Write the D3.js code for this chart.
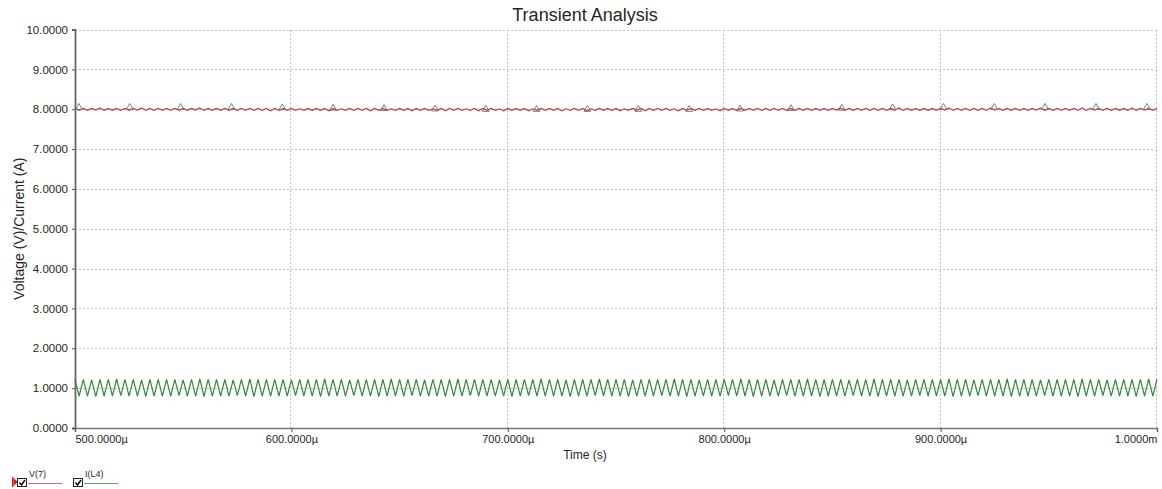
<!DOCTYPE html>
<html>
<head>
<meta charset="utf-8">
<script src="https://cdn.jsdelivr.net/npm/d3@7"></script>
<style>
  body { margin: 0; background: #fff; }
  svg { display: block; }
  text { font-family: "Liberation Sans", Arial, sans-serif; fill: #262626; }
</style>
</head>
<body>
<svg id="chart"></svg>
<script>
// time in microseconds, values in V / A
var startUs = 500, endUs = 1000
var xTicks = [500, 600, 700, 800, 900, 1000]
var yTicks = [0, 1, 2, 3, 4, 5, 6, 7, 8, 9, 10]
var seriesNames = ["V(7)", "I(L4)"]

// V(7): ripple tops and bottoms, one per switching cycle
var v7Peaks = [
  8.02,8.02,8.02,8.03,8.02,8.02,8.02,8.02,8.03,8.02,
  8.02,8.02,8.02,8.02,8.02,8.03,8.02,8.02,8.02,8.02,
  8.02,8.02,8.02,8.02,8.02,8.02,8.02,8.01,8.02,8.02,
  8.02,8.02,8.01,8.02,8.02,8.02,8.02,8.02,8.01,8.02,
  8.02,8.02,8.02,8.01,8.02,8.02,8.02,8.01,8.02,8.02,
  8.02,8.01,8.02,8.02,8.02,8.01,8.02,8.02,8.02,8.01,
  8.02,8.02,8.01,8.02,8.02,8.02,8.01,8.02,8.02,8.02,
  8.02,8.02,8.01,8.02,8.02,8.02,8.02,8.01,8.02,8.02,
  8.02,8.02,8.02,8.02,8.02,8.02,8.02,8.02,8.02,8.02,
  8.02,8.02,8.03,8.02,8.02,8.02,8.02,8.02,8.02,8.03,
  8.02,8.02,8.02,8.02,8.02,8.03,8.02,8.02,8.02,8.02,
  8.03,8.02,8.02,8.02,8.02,8.02,8.03,8.02,8.02,8.02,
  8.02,8.03,8.02,8.02,8.02,8.02,8.02,8.03,8.02,8.02,
  8.02
]
var v7Troughs = [
  7.97,7.97,7.98,7.97,7.97,7.97,7.97,7.98,7.97,7.97,
  7.97,7.97,7.97,7.97,7.98,7.97,7.97,7.97,7.97,7.97,
  7.97,7.97,7.97,7.96,7.97,7.97,7.97,7.97,7.97,7.97,
  7.96,7.97,7.97,7.97,7.97,7.96,7.97,7.97,7.97,7.97,
  7.96,7.97,7.97,7.97,7.96,7.97,7.97,7.97,7.96,7.97,
  7.97,7.96,7.97,7.97,7.96,7.97,7.97,7.97,7.96,7.97,
  7.97,7.96,7.97,7.97,7.97,7.96,7.97,7.97,7.96,7.97,
  7.97,7.97,7.96,7.97,7.97,7.97,7.97,7.96,7.97,7.97,
  7.97,7.97,7.97,7.97,7.97,7.97,7.97,7.97,7.97,7.97,
  7.97,7.98,7.97,7.97,7.97,7.97,7.97,7.97,7.98,7.97,
  7.97,7.97,7.97,7.97,7.98,7.97,7.97,7.97,7.97,7.97,
  7.98,7.97,7.97,7.97,7.97,7.98,7.97,7.97,7.97,7.97,
  7.97,7.97,7.98,7.97,7.97,7.97,7.97,7.97,7.98,7.97
]

// I(L4): inductor current triangle
var iL4Peaks = [
  1.22,1.22,1.21,1.22,1.22,1.23,1.22,1.22,1.21,1.22,
  1.22,1.22,1.22,1.21,1.22,1.23,1.22,1.22,1.22,1.21,
  1.22,1.23,1.22,1.22,1.22,1.22,1.21,1.22,1.22,1.22,
  1.23,1.22,1.22,1.21,1.22,1.22,1.22,1.22,1.23,1.22,
  1.22,1.22,1.21,1.22,1.22,1.22,1.23,1.22,1.22,1.22,
  1.22,1.21,1.22,1.22,1.22,1.22,1.23,1.22,1.22,1.21,
  1.22,1.22,1.22,1.23,1.22,1.22,1.22,1.21,1.22,1.22,
  1.22,1.22,1.23,1.22,1.22,1.21,1.22,1.22,1.22,1.22,
  1.23,1.22,1.22,1.22,1.21,1.22,1.22,1.22,1.23,1.22,
  1.22,1.22,1.22,1.21,1.22,1.22,1.23,1.22,1.22,1.22,
  1.21,1.22,1.22,1.22,1.22,1.23,1.22,1.22,1.21,1.22,
  1.22,1.22,1.23,1.22,1.22,1.22,1.21,1.22,1.22,1.22,
  1.22,1.23,1.22,1.22,1.21,1.22,1.22,1.22,1.22,1.23,
  1.22
]
var iL4Troughs = [
  0.80,0.80,0.79,0.80,0.80,0.81,0.80,0.80,0.79,0.80,
  0.80,0.80,0.81,0.80,0.80,0.79,0.80,0.80,0.80,0.81,
  0.80,0.79,0.80,0.80,0.80,0.80,0.81,0.80,0.80,0.79,
  0.80,0.80,0.80,0.81,0.80,0.80,0.79,0.80,0.80,0.80,
  0.81,0.80,0.80,0.80,0.79,0.80,0.80,0.81,0.80,0.80,
  0.80,0.80,0.79,0.80,0.81,0.80,0.80,0.80,0.80,0.79,
  0.80,0.80,0.81,0.80,0.80,0.80,0.79,0.80,0.80,0.80,
  0.81,0.80,0.80,0.79,0.80,0.80,0.80,0.80,0.81,0.80,
  0.80,0.79,0.80,0.80,0.80,0.81,0.80,0.80,0.80,0.79,
  0.80,0.80,0.80,0.81,0.80,0.80,0.79,0.80,0.80,0.80,
  0.80,0.81,0.80,0.80,0.80,0.79,0.80,0.80,0.81,0.80,
  0.80,0.80,0.79,0.80,0.80,0.80,0.81,0.80,0.80,0.80,
  0.79,0.80,0.80,0.81,0.80,0.80,0.80,0.79,0.80,0.80
]

// trace markers drawn on V(7)
var markerTimes = [501.8, 525.3, 548.8, 572.3, 595.8, 619.3, 642.8, 666.3, 689.8, 713.3, 736.8,
                   760.3, 783.8, 807.3, 830.8, 854.3, 877.8, 901.3, 924.8, 948.3, 971.8, 995.3]
var markerValues = [8.02, 8.02, 8.02, 8.02, 8.01, 8.00, 7.99, 7.98, 7.97, 7.97, 7.97,
                    7.97, 7.97, 7.98, 7.99, 8.00, 8.01, 8.02, 8.02, 8.02, 8.02, 8.02]

var W = 1162, H = 489
var margin = { top: 29.5, left: 75, bottom: 61, right: 5 }

var svg = d3.select("#chart").attr("width", W).attr("height", H)

var x = d3.scaleLinear().domain([startUs, endUs]).range([margin.left, W - margin.right])
var y = d3.scaleLinear().domain([0, 10]).range([H - margin.bottom, margin.top])

// turn peak/trough lists into samples on the simulator's time grid
function toSamples(peaks, troughs) {
  var n = peaks.length + troughs.length
  var step = (endUs - startUs) / (n - 1)
  var out = []
  for (var k = 0; k < n; k++) {
    var v = (k % 2 == 0) ? peaks[k / 2] : troughs[(k - 1) / 2]
    out.push({ t: startUs + k * step, v: v })
  }
  return out
}

var v7 = toSamples(v7Peaks, v7Troughs)
var iL4 = toSamples(iL4Peaks, iL4Troughs)

// grid
var grid = svg.append("g").attr("stroke", "#c4c4c4").attr("stroke-width", 1).attr("stroke-dasharray", "2,2")
grid.selectAll(".hg")
  .data(yTicks.filter(function (d) { return d > 0 }))
  .enter().append("line")
  .attr("x1", x(startUs)).attr("x2", x(endUs))
  .attr("y1", function (d) { return Math.round(y(d)) + 0.5 })
  .attr("y2", function (d) { return Math.round(y(d)) + 0.5 })
grid.selectAll(".vg")
  .data(xTicks.filter(function (d) { return d > startUs }))
  .enter().append("line")
  .attr("x1", function (d) { return Math.round(x(d)) - 0.5 })
  .attr("x2", function (d) { return Math.round(x(d)) - 0.5 })
  .attr("y1", y(0)).attr("y2", y(10))

// axes
var xAxis = svg.append("g")
  .attr("transform", "translate(0," + y(0) + ")")
  .call(d3.axisBottom(x).tickValues(xTicks).tickSize(4).tickPadding(3)
    .tickFormat(function (d) { return d < 1000 ? d.toFixed(4) + "\u00b5" : (d / 1000).toFixed(4) + "m" }))
xAxis.select(".domain").attr("stroke", "#777").attr("stroke-width", 1.5)
xAxis.selectAll(".tick line").attr("stroke", "#555")
xAxis.selectAll("text").attr("font-size", 11).attr("fill", "#262626")
  .attr("text-anchor", function (d) { return d == startUs ? "start" : (d == endUs ? "end" : "middle") })
xAxis.attr("font-family", null)

var yAxis = svg.append("g")
  .attr("transform", "translate(" + x(startUs) + ",0)")
  .call(d3.axisLeft(y).tickValues(yTicks).tickSize(3).tickPadding(4)
    .tickFormat(function (d) { return d.toFixed(4) }))
yAxis.select(".domain").attr("stroke", "#666").attr("stroke-width", 1.8)
yAxis.selectAll(".tick line").attr("stroke", "#555")
yAxis.selectAll("text").attr("font-size", 11.5).attr("fill", "#262626")
yAxis.attr("font-family", null)

// traces
var line = d3.line().x(function (d) { return x(d.t) }).y(function (d) { return y(d.v) })

svg.append("path").datum(v7)
  .attr("fill", "none").attr("stroke", "#c23a38").attr("stroke-width", 1.2)
  .attr("d", line)

svg.append("path").datum(iL4)
  .attr("fill", "none").attr("stroke", "#2f8a34").attr("stroke-width", 1.2)
  .attr("d", line)

var tri = d3.symbol().type(d3.symbolTriangle).size(20)
svg.selectAll(".mk")
  .data(markerTimes)
  .enter().append("path")
  .attr("class", "mk")
  .attr("transform", function (d, i) { return "translate(" + x(d) + "," + (y(markerValues[i]) - 1) + ")" })
  .attr("d", tri)
  .attr("fill", "none").attr("stroke", "#707070").attr("stroke-width", 0.9)

// titles
svg.append("text").attr("x", 585).attr("y", 21).attr("text-anchor", "middle")
  .attr("font-size", 18).text("Transient Analysis")
svg.append("text").attr("x", 585).attr("y", 459).attr("text-anchor", "middle")
  .attr("font-size", 12).text("Time (s)")
svg.append("text").attr("transform", "translate(24," + ((y(0) + y(10)) / 2) + ") rotate(-90)")
  .attr("text-anchor", "middle").attr("font-size", 14).text("Voltage (V)/Current (A)")

// legend
var legendColors = ["#d06a6a", "#5aa65a"]
var legendX = [17, 73]
var lg = svg.append("g")
lg.append("rect").attr("x", 12).attr("y", 477).attr("width", 1.5).attr("height", 10).attr("fill", "#d42020")
lg.append("path").attr("d", "M13.5,478 L18,482 L13.5,486 Z").attr("fill", "#d42020")

var items = lg.selectAll(".item").data(seriesNames).enter().append("g")
  .attr("transform", function (d, i) { return "translate(" + legendX[i] + ",0)" })
items.append("rect").attr("x", 0.5).attr("y", 478.5).attr("width", 9).attr("height", 8)
  .attr("fill", "#fff").attr("stroke", "#222").attr("stroke-width", 1)
items.append("path").attr("d", "M2.5,482.5 L4.5,485 L8,480").attr("fill", "none")
  .attr("stroke", "#000").attr("stroke-width", 1.4)
items.append("text").attr("x", 12).attr("y", 477).attr("font-size", 9).attr("fill", "#444")
  .text(function (d) { return d })
items.append("line").attr("x1", 11).attr("x2", 45)
  .attr("y1", 483.5).attr("y2", 483.5)
  .attr("stroke", function (d, i) { return legendColors[i] }).attr("stroke-width", 1)
</script>
</body>
</html>
